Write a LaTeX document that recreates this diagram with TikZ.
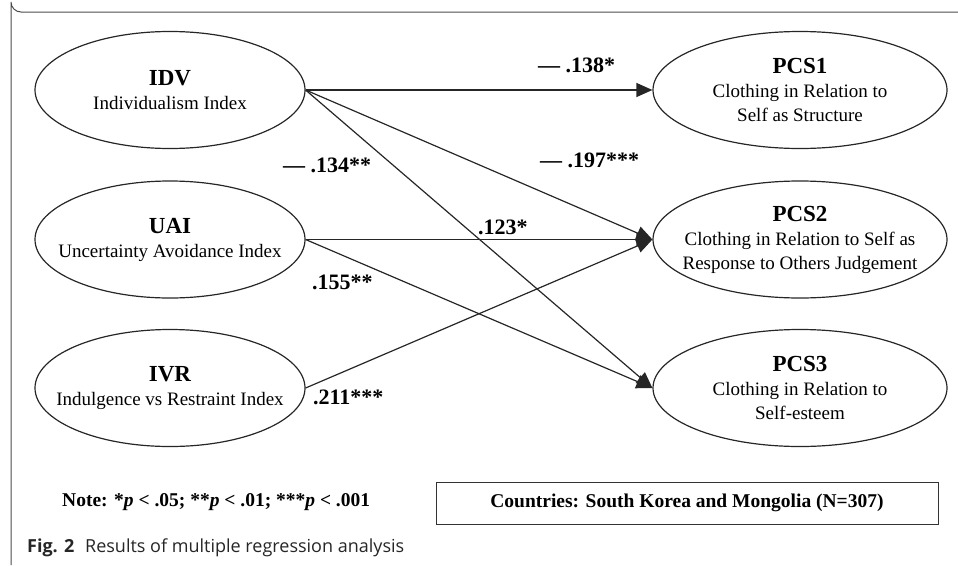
\documentclass[tikz,border=0pt]{standalone}
\usepackage{fontspec}
\setmainfont{Liberation Serif}
\newfontfamily\capfont{Open Sans}
\usetikzlibrary{shapes.geometric,arrows.meta}
\begin{document}
\begin{tikzpicture}[x=1pt,y=-1pt,
  latent/.style={draw=black!85, line width=1.2pt, ellipse, inner xsep=-40pt, inner ysep=0pt, align=center, font=\fontsize{19}{24}\selectfont},
  srcvar/.style={latent, minimum width=270pt, minimum height=117pt},
  outvar/.style={latent, minimum width=294pt, minimum height=117pt},
  conn/.style={line width=1.2pt, draw=black!85, -{Triangle[length=16pt,width=14pt]}},
  coef/.style={font=\fontsize{22}{24}\selectfont\bfseries, inner sep=0pt, anchor=west}]
\useasboundingbox (0,0) rectangle (958,565);
\draw[line width=1pt, black!70] (958,12) -- (21,12) arc[start angle=90, end angle=180, radius=10] -- (11,565);
\newcommand{\ttlx}[1]{{\fontsize{23}{24}\selectfont\bfseries #1}}
\node[srcvar] (idv) at (170,90) {\ttlx{IDV}\\Individualism Index};
\node[srcvar] (uai) at (170,239.5) {\ttlx{UAI}\\Uncertainty Avoidance Index};
\node[srcvar] (ivr) at (170,388) {\ttlx{IVR}\\Indulgence vs Restraint Index};
\node[outvar] (pcs1) at (800,90) {\ttlx{PCS1}\\Clothing in Relation to\\Self as Structure};
\node[outvar] (pcs2) at (800,239.5) {\ttlx{PCS2}\\Clothing in Relation to Self as\\Response to Others Judgement};
\node[outvar] (pcs3) at (800,388) {\ttlx{PCS3}\\Clothing in Relation to\\Self-esteem};
\draw[conn] (idv.east) -- (pcs1.west);
\draw[conn] (idv.east) -- (pcs2.west);
\draw[conn] (idv.east) -- (pcs3.west);
\draw[conn] (uai.east) -- (pcs2.west);
\draw[conn] (uai.east) -- (pcs3.west);
\draw[conn] (ivr.east) -- (pcs2.west);
\node[coef] (c1) at (538,65) {--- .138*};
\node[coef] (c2) at (540,160) {--- .197***};
\node[coef] (c3) at (283,165) {--- .134**};
\node[coef] (c4) at (478,227) {.123*};
\node[coef] (c5) at (312,282) {.155**};
\node[coef] (c6) at (313,397) {.211***};
\node[font=\fontsize{19.5}{22}\selectfont\bfseries, anchor=west, inner sep=0pt] (note) at (62,502) {Note: *\textit{p} < .05; **\textit{p} < .01; ***\textit{p} < .001};
\node[draw=black!80, line width=1pt, minimum width=502pt, minimum height=42pt, inner sep=0pt, font=\fontsize{19.5}{22}\selectfont\bfseries] (ctry) at (687,503) {Countries: South Korea and Mongolia (N=307)};
\node[anchor=west, inner sep=0pt, font=\capfont\fontsize{18}{22}\selectfont, text=black!85] (cap) at (27,548) {\textbf{Fig. 2}\hspace{0.6em}Results of multiple regression analysis};
\end{tikzpicture}
\end{document}
